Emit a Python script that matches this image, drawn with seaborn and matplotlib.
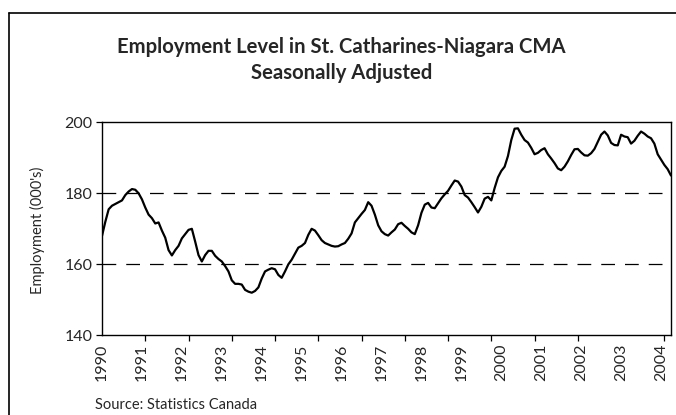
import numpy as np
import pandas as pd
import matplotlib
matplotlib.use("Agg")
import matplotlib.pyplot as plt
from matplotlib.lines import Line2D
import seaborn as sns

# ---- data (monthly, Jan 1990 .. Apr 2004), thousands ----
employment = [
    168.0, 172.0, 175.5, 176.5, 177.0, 177.5, 178.0, 179.5, 180.5, 181.2, 181.0, 180.0,  # 1990
    178.3, 176.0, 174.0, 173.0, 171.5, 171.8, 169.5, 167.5, 164.0, 162.5, 164.0, 165.2,  # 1991
    167.3, 168.5, 169.7, 170.0, 166.4, 162.6, 160.8, 162.6, 163.8, 163.8, 162.4, 161.5,  # 1992
    160.8, 159.5, 158.0, 155.5, 154.5, 154.5, 154.3, 152.8, 152.3, 152.0, 152.5, 153.5,  # 1993
    156.0, 158.0, 158.5, 158.9, 158.6, 157.0, 156.2, 158.0, 160.0, 161.3, 163.0, 164.7,  # 1994
    165.2, 166.0, 168.3, 170.0, 169.5, 168.2, 166.8, 166.0, 165.6, 165.2, 165.0, 165.1,  # 1995
    165.6, 166.0, 167.2, 168.7, 171.8, 173.0, 174.2, 175.3, 177.5, 176.5, 174.0, 171.0,  # 1996
    169.3, 168.5, 168.1, 169.0, 169.8, 171.3, 171.7, 170.8, 170.0, 169.0, 168.5, 171.0,  # 1997
    174.5, 176.8, 177.3, 176.0, 175.8, 177.2, 178.6, 179.7, 180.7, 182.2, 183.6, 183.3,  # 1998
    181.9, 179.5, 178.8, 177.5, 176.1, 174.6, 176.2, 178.5, 179.0, 178.0, 181.5, 184.5,  # 1999
    186.3, 187.5, 190.5, 195.0, 198.2, 198.3, 196.5, 195.0, 194.3, 192.8, 191.0, 191.4,  # 2000
    192.2, 192.7, 191.0, 189.8, 188.5, 187.0, 186.5, 187.5, 189.0, 190.8, 192.4, 192.5,  # 2001
    191.5, 190.7, 190.6, 191.3, 192.5, 194.5, 196.5, 197.4, 196.3, 194.2, 193.6, 193.5,  # 2002
    196.5, 196.0, 195.8, 194.0, 194.8, 196.2, 197.4, 196.8, 196.0, 195.5, 194.0, 191.0,  # 2003
    189.5, 188.0, 186.8, 185.0,                                                          # 2004
]
year_labels = [str(y) for y in range(1990, 2005)]
y_ticks = [140, 160, 180, 200]

df = pd.DataFrame({"month": np.arange(len(employment)), "employment": employment})

sns.set_theme(style="white")
plt.rcParams["font.family"] = ["Lato", "DejaVu Sans"]

fig = plt.figure(figsize=(6.76, 4.15), dpi=100)
ax = fig.add_axes([0.1509, 0.1920, 0.8417, 0.5133])

sns.lineplot(data=df, x="month", y="employment", color="black", linewidth=1.6, ax=ax)

ax.set_xlim(0, len(employment) - 1)
ax.set_ylim(140, 200)

# dashed gridlines at inner y ticks
for yv in y_ticks[1:-1]:
    ax.axhline(yv, color="black", linewidth=0.9, linestyle=(0, (11, 8)), zorder=0)

# y axis
ax.set_yticks(y_ticks)
ax.set_yticklabels([str(v) for v in y_ticks], fontsize=11.5)
ax.tick_params(axis="y", which="major", direction="out", length=4, width=0.9, color="black", pad=3, left=True)

# x axis: labels every 12 months (no marks), tick marks every 13 months
ax.set_xticks(np.arange(0, len(employment), 12))
ax.set_xticklabels(year_labels, rotation=90, fontsize=11.5)
ax.tick_params(axis="x", which="major", length=0, pad=6, bottom=True)
ax.set_xticks(np.arange(0, len(employment), 13), minor=True)
ax.tick_params(axis="x", which="minor", direction="out", length=4, width=0.9, color="black", bottom=True)

ax.set_xlabel("")
ax.set_ylabel("")

for s in ax.spines.values():
    s.set_visible(True)
    s.set_color("black")
    s.set_linewidth(1.0)

# texts
fig.text(0.505, 0.887, "Employment Level in St. Catharines-Niagara CMA",
         ha="center", va="center", fontsize=14.6, fontweight="bold")
fig.text(0.505, 0.824, "Seasonally Adjusted",
         ha="center", va="center", fontsize=14.6, fontweight="bold")
fig.text(0.055, 0.446, "Employment (000's)", rotation=90, ha="center", va="center", fontsize=10.5)
fig.text(0.1405, 0.024, "Source: Statistics Canada", ha="left", va="center", fontsize=10.5)

# outer frame (cropped at right and bottom)
fig.add_artist(Line2D([8.5 / 676, 1.0], [1 - 13.5 / 415] * 2, transform=fig.transFigure,
                      color="black", linewidth=1.2))
fig.add_artist(Line2D([8.5 / 676] * 2, [0.0, 1 - 13.5 / 415], transform=fig.transFigure,
                      color="black", linewidth=1.2))

fig.savefig("out.png", dpi=100, facecolor="white")
